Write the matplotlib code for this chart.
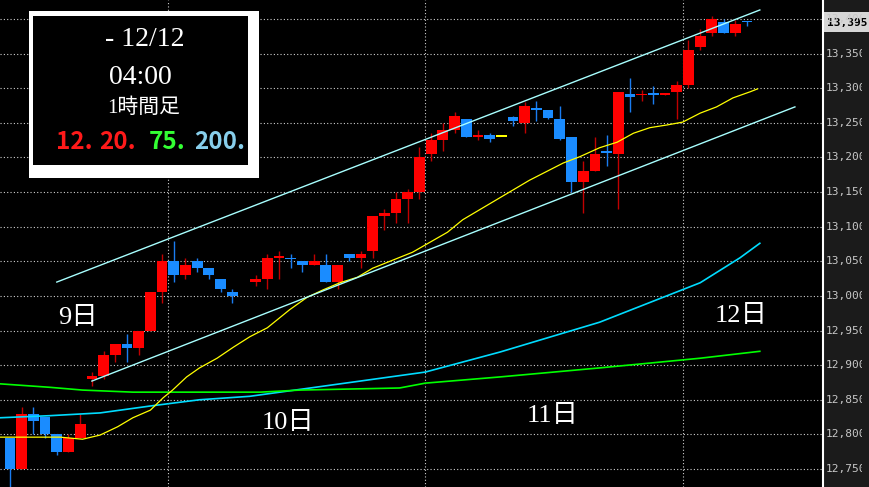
import numpy as np
import matplotlib.pyplot as plt
from matplotlib.patches import Rectangle
from matplotlib.transforms import Bbox

# Velas de 1 hora (apertura, maximo, minimo, cierre); nan = sin vela
apertura = [12795, 12750, 12830, 12825, 12800, 12775, 12795, 12880, 12885, 12915,
            12930, 12925, 12950, 13005, 13050, 13030, 13050, 13040, 13025, 13005,
            np.nan, 13020, 13025, 13055, 13055, 13050, 13045, 13045, 13020, 13060,
            13055, 13065, 13115, 13120, 13140, 13150, 13205, 13225, 13240, 13255,
            13230, 13232, 13230, 13258, 13250, 13272, 13268, 13255, 13230, 13165,
            13180, 13210, 13205, 13292, 13290, 13293, 13290, 13295, 13305, 13360,
            13380, 13395, 13380, 13397]
maximo = [12795, 12840, 12840, 12825, 12800, 12800, 12830, 12890, 12920, 12930,
          12945, 12950, 13005, 13060, 13080, 13055, 13055, 13040, 13025, 13010,
          np.nan, 13030, 13060, 13065, 13060, 13050, 13060, 13060, 13045, 13060,
          13065, 13115, 13125, 13150, 13155, 13215, 13235, 13250, 13265, 13255,
          13240, 13235, 13230, 13260, 13280, 13282, 13268, 13275, 13230, 13195,
          13230, 13232, 13295, 13315, 13298, 13303, 13293, 13310, 13370, 13385,
          13405, 13400, 13398, 13397]
minimo = [12720, 12750, 12800, 12795, 12770, 12775, 12795, 12870, 12880, 12905,
          12905, 12915, 12950, 12990, 13020, 13025, 13035, 13025, 13005, 12990,
          np.nan, 13015, 13010, 13025, 13040, 13035, 13045, 13020, 13010, 13050,
          13040, 13055, 13095, 13105, 13105, 13140, 13195, 13210, 13235, 13230,
          13225, 13222, 13230, 13245, 13235, 13252, 13255, 13225, 13150, 13120,
          13180, 13187, 13125, 13265, 13282, 13277, 13290, 13255, 13300, 13355,
          13375, 13380, 13375, 13390]
cierre = [12750, 12830, 12820, 12800, 12775, 12795, 12815, 12885, 12915, 12930,
          12925, 12950, 13005, 13050, 13030, 13045, 13040, 13030, 13010, 13000,
          np.nan, 13025, 13055, 13058, 13053, 13045, 13050, 13020, 13045, 13055,
          13060, 13115, 13120, 13140, 13150, 13200, 13225, 13240, 13260, 13230,
          13233, 13227, 13230, 13252, 13275, 13268, 13257, 13227, 13165, 13180,
          13205, 13206, 13295, 13288, 13292, 13290, 13293, 13305, 13355, 13375,
          13400, 13380, 13393, 13395]

# Separacion de dias (entre velas) y etiquetas
cortes_dia = [13.5, 35.5, 57.5]
etiquetas_dia = ['9日', '10日', '11日', '12日']

# Medias moviles (posicion en velas, precio)
amarilla_x = [-0.85, 4.3, 6.2, 7.7, 9.2, 10.5, 12.0, 13.1, 13.9, 15.1, 16.2, 17.7, 19.1,
              20.5, 22.0, 23.9, 25.4, 26.8, 28.2, 29.7, 31.0, 34.4, 37.4, 38.7, 41.6,
              44.4, 47.3, 48.7, 50.4, 51.9, 53.3, 54.7, 56.2, 57.5, 59.0, 60.4, 61.8,
              63.3, 63.9]
amarilla_y = [12796, 12796, 12793, 12799, 12811, 12824, 12835, 12853, 12864, 12883,
              12896, 12910, 12926, 12941, 12954, 12980, 12998, 13009, 13019, 13027,
              13040, 13063, 13092, 13110, 13139, 13167, 13192, 13201, 13214, 13222,
              13235, 13243, 13247, 13251, 13264, 13273, 13286, 13295, 13299]
verde_x = [-0.85, 3.4, 6.2, 10.5, 21.4, 24.8, 33.3, 35.5, 41.9, 50.4, 59.0, 64.1]
verde_y = [12873, 12868, 12864, 12861, 12861, 12864, 12867, 12874, 12883, 12896,
           12910, 12920]
celeste_x = [-0.85, 3.4, 7.7, 12.0, 16.2, 20.5, 24.8, 35.5, 41.9, 50.4, 59.0, 62.4, 64.1]
celeste_y = [12824, 12827, 12831, 12841, 12850, 12855, 12865, 12890, 12919, 12962,
             13019, 13055, 13076]

# Lineas de canal
canal_sup_x = [4.0, 64.1]
canal_sup_y = [13020, 13413]
canal_inf_x = [7.0, 67.1]
canal_inf_y = [12877, 13273]

precios_eje = np.arange(12750, 13401, 50)
precio_actual = 13395

fig = plt.figure(figsize=(8.69, 4.87), dpi=100, facecolor='#1b1b1b')
ax = fig.add_axes([0, 0, 823 / 869, 1])
ax.set_facecolor('black')
ax.set_xlim(-0.855, 69.5)
ax.set_ylim(12724, 13427.4)
for lado in ['top', 'bottom', 'left']:
    ax.spines[lado].set_visible(False)
ax.spines['right'].set_color('white')
ax.spines['right'].set_linewidth(1.5)
ax.set_xticks([])
ax.set_yticks([])

# Rejilla punteada
for p in precios_eje:
    ax.axhline(p, color='#d0d0d0', ls=(0, (1, 2)), lw=0.8, zorder=1)
for c in cortes_dia:
    ax.axvline(c, color='#d0d0d0', ls=(0, (1, 2)), lw=0.8, zorder=1)

# Velas
for i in range(len(apertura)):
    o, h, l, c = apertura[i], maximo[i], minimo[i], cierre[i]
    if np.isnan(o):
        continue
    if c > o:
        cuerpo, mecha = '#ff0000', '#c00000'
    elif c < o:
        cuerpo, mecha = '#1a8cff', '#1a7cf0'
    else:
        cuerpo, mecha = '#ffff00', '#ffff00'
    ax.vlines(i, l, h, color=mecha, lw=1, zorder=2)
    alto = max(abs(c - o), 2)
    ax.bar(i, alto, bottom=min(o, c), width=0.92, color=cuerpo, zorder=3)

# Medias y canal
ax.plot(celeste_x, celeste_y, color='#00dcff', lw=1.2, zorder=4)
ax.plot(verde_x, verde_y, color='#00ff00', lw=1.2, zorder=4)
ax.plot(amarilla_x, amarilla_y, color='#ffff00', lw=0.9, zorder=5)
ax.plot(canal_sup_x, canal_sup_y, color='#a8ffff', lw=1, zorder=5)
ax.plot(canal_inf_x, canal_inf_y, color='#a8ffff', lw=1, zorder=5)

# Capa en pixeles para textos
capa = fig.add_axes([0, 0, 1, 1])
capa.set_xlim(0, 869)
capa.set_ylim(487, 0)
capa.axis('off')

# Precio actual (recuadro arriba a la derecha)
yact = 487 - ax.transData.transform((0, precio_actual))[1]
capa.add_patch(Rectangle((824, yact - 10), 45, 20, facecolor='#d6d6d6',
                         edgecolor='none', zorder=6))
capa.text(847, yact + 0.5, f'{precio_actual:,}', color='black', fontsize=8,
          family='DejaVu Sans Mono', weight='bold', ha='center', va='center', zorder=7)

# Etiquetas del eje de precios (cortadas como en la pantalla original)
for p in precios_eje:
    yp = ax.transData.transform((0, p))[1]
    arriba = 487
    if p == precios_eje[-1]:
        arriba = 487 - (yact - 10)
    recorte = Bbox([[824, 0], [862, arriba]])
    t = fig.text(826 / 869, yp / 487, f'{p:,}', color='#c8c8c8', fontsize=8,
                 family='DejaVu Sans Mono', va='center', ha='left')
    t.set_clip_box(recorte)
    t.set_clip_on(True)

# Etiquetas de dia
fuente_dia = ['Liberation Serif', 'Noto Sans CJK JP']
posiciones_dia = [(78, 318), (288, 423), (553, 416), (741, 316)]
for txt, (xp, yp) in zip(etiquetas_dia, posiciones_dia):
    capa.text(xp, yp, txt, color='white', fontsize=19, family=fuente_dia,
              ha='center', va='center')

# Cuadro de leyenda
capa.add_patch(Rectangle((29, 11), 230, 167, facecolor='white', edgecolor='none'))
capa.add_patch(Rectangle((33, 16), 215, 149, facecolor='black', edgecolor='none'))
capa.text(145, 40, '- 12/12', color='white', fontsize=20, family='Liberation Serif',
          ha='center', va='center')
capa.text(140, 77, '04:00', color='white', fontsize=20, family='Liberation Serif',
          ha='center', va='center')
capa.text(144, 108, '1時間足', color='white', fontsize=15, family=fuente_dia,
          ha='center', va='center')
medias_txt = ['12.', '20.', '75.', '200.']
medias_col = ['#ff1a1a', '#ff1a1a', '#33ff33', '#87ceeb']
medias_pos = [56, 99, 149, 194]
for txt, col, xp in zip(medias_txt, medias_col, medias_pos):
    capa.text(xp, 142, txt, color=col, fontsize=17.5, family='Noto Sans CJK JP',
              weight='bold', ha='left', va='center')

fig.savefig('out.png', dpi=100, facecolor=fig.get_facecolor())
